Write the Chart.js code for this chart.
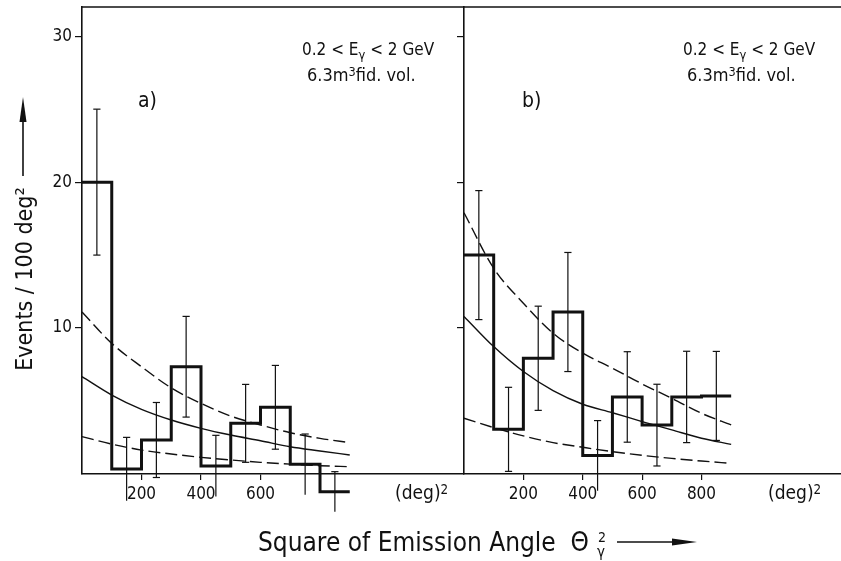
<!DOCTYPE html>
<html><head><meta charset="utf-8">
<title>Events per 100 deg² vs square of emission angle</title>
<script src="https://cdn.jsdelivr.net/npm/chart.js@4.4.1/dist/chart.umd.min.js"></script>
<style>
html,body{margin:0;padding:0;background:#fff;}
#wrap{position:relative;width:841px;height:561px;overflow:hidden;background:#fff;color:#111;font-family:"DejaVu Sans Condensed","DejaVu Sans",sans-serif;}
#wrap canvas{position:absolute;top:0;}
#wrap svg{position:absolute;left:0;top:0;}
.t{position:absolute;white-space:nowrap;line-height:1;}
.sub{font-size:0.75em;position:relative;top:0.3em;}
.sup{font-size:0.7em;position:relative;top:-0.4em;}
</style></head>
<body>
<div id="wrap">
  <canvas id="chartA" width="465" height="561" style="left:0;width:465px;height:561px"></canvas>
  <canvas id="chartB" width="401" height="561" style="left:440px;width:401px;height:561px"></canvas>
  <svg width="841" height="561">
    <line x1="23" y1="176" x2="23" y2="118" stroke="#111" stroke-width="1.6"/>
    <polygon points="23,97 19.5,122 26.5,122" fill="#111"/>
    <line x1="617" y1="542" x2="676" y2="542" stroke="#111" stroke-width="1.6"/>
    <polygon points="697,542 672,538.5 672,545.5" fill="#111"/>
  </svg>
  <div class="t" style="left:24px;top:279px;font-size:23px;transform:translate(-50%,-50%) rotate(-90deg);">Events / 100 deg²</div>
  <div class="t" style="left:258px;top:529px;font-size:26px;">Square of Emission Angle&nbsp;&nbsp;Θ</div>
  <div class="t" style="left:598px;top:530px;font-size:14px;">2</div>
  <div class="t" style="left:597px;top:545px;font-size:15px;">γ</div>

  <div class="t" style="left:302px;top:41px;font-size:17px;">0.2 &lt; E<span class="sub">γ</span> &lt; 2 GeV</div>
  <div class="t" style="left:307px;top:66px;font-size:18px;">6.3m<span class="sup">3</span>fid. vol.</div>
  <div class="t" style="left:138px;top:90px;font-size:21px;">a)</div>
  <div class="t" style="left:395px;top:483px;font-size:19px;">(deg)<span class="sup">2</span></div>

  <div class="t" style="left:683px;top:41px;font-size:17px;">0.2 &lt; E<span class="sub">γ</span> &lt; 2 GeV</div>
  <div class="t" style="left:687px;top:66px;font-size:18px;">6.3m<span class="sup">3</span>fid. vol.</div>
  <div class="t" style="left:522px;top:90px;font-size:21px;">b)</div>
  <div class="t" style="left:768px;top:483px;font-size:19px;">(deg)<span class="sup">2</span></div>
</div>
<script>
// ---- data ----
const binEdges   = [0, 100, 200, 300, 400, 500, 600, 700, 800, 900];   // deg^2
const binCenters = [50, 150, 250, 350, 450, 550, 650, 750, 850];
const curveX     = [0, 100, 200, 300, 400, 500, 600, 700, 800, 900];

// panel a)
const countsA = [20.0, 0.34, 2.33, 7.35, 0.55, 3.47, 4.57, 0.66, -1.21];
const errA    = [5.0, 2.17, 2.57, 3.45, 2.1, 2.67, 2.87, 2.08, 1.37];
const upperA  = [11.1, 8.95, 7.35, 5.9, 4.84, 3.97, 3.36, 2.83, 2.44, 2.15];
const fitA    = [6.67, 5.41, 4.43, 3.7, 3.13, 2.67, 2.28, 1.87, 1.58, 1.30];
const lowerA  = [2.56, 2.05, 1.64, 1.37, 1.14, 0.96, 0.8, 0.68, 0.57, 0.5];

// panel b)
const countsB = [15.0, 3.06, 7.93, 11.1, 1.26, 5.28, 3.35, 5.28, 5.35];
const errB    = [4.42, 2.88, 3.57, 4.08, 2.4, 3.1, 2.8, 3.13, 3.05];
const upperB  = [17.9, 14.1, 11.7, 9.65, 8.28, 7.25, 6.17, 5.19, 4.16, 3.36];
const fitB    = [10.8, 8.73, 7.02, 5.71, 4.78, 4.2, 3.59, 3.02, 2.45, 2.03];
const lowerB  = [3.82, 3.18, 2.61, 2.15, 1.83, 1.53, 1.28, 1.07, 0.89, 0.73];

// axis ticks
const yTicks  = [10, 20, 30];
const xTicksA = [200, 400, 600];
const xTicksB = [200, 400, 600, 800];

// ---- chart building ----
const INK = '#111';
const TICK_FONT = '"DejaVu Sans Condensed","DejaVu Sans",sans-serif';

function histPoints(counts) {
  return binEdges.map((e, i) => ({ x: e, y: counts[Math.min(i, counts.length - 1)] }));
}
function curvePoints(vals) {
  return curveX.map((x, i) => ({ x: x, y: vals[i] }));
}
function errPoints(counts, errs) {
  const p = [];
  binCenters.forEach((c, i) => {
    p.push({ x: c, y: counts[i] - errs[i] }, { x: c, y: counts[i] + errs[i] }, { x: c, y: null });
  });
  return p;
}

const frameTop = {
  id: 'frameTop',
  afterDraw(chart) {
    const { ctx, chartArea: a } = chart;
    ctx.save();
    ctx.strokeStyle = INK;
    ctx.lineWidth = 1.5;
    ctx.beginPath();
    ctx.moveTo(a.left, a.top);
    ctx.lineTo(a.right, a.top);
    ctx.stroke();
    ctx.restore();
  }
};

function curveDs(vals, dashed) {
  return {
    data: curvePoints(vals), borderColor: INK, borderWidth: 1.4,
    borderDash: dashed ? [12, 5] : [], pointRadius: 0,
    cubicInterpolationMode: 'monotone', fill: false, clip: false
  };
}

function buildChart(id, p) {
  return new Chart(document.getElementById(id), {
    type: 'line',
    data: {
      datasets: [
        curveDs(p.upper, true),
        curveDs(p.fit, false),
        curveDs(p.lower, true),
        {
          data: errPoints(p.counts, p.errs), borderColor: INK, borderWidth: 1.2,
          pointStyle: 'line', pointRadius: 3.6, pointBorderWidth: 1.2,
          pointBorderColor: INK, pointBackgroundColor: INK,
          spanGaps: false, fill: false, clip: false
        },
        {
          data: histPoints(p.counts), stepped: true, borderColor: INK,
          borderWidth: 3, pointRadius: 0, fill: false, clip: false
        }
      ]
    },
    options: {
      responsive: false, animation: false, events: [],
      layout: { autoPadding: false, padding: { top: 7, right: p.padRight, left: 0, bottom: 0 } },
      plugins: { legend: { display: false }, tooltip: { enabled: false } },
      scales: {
        x: {
          type: 'linear', min: 0, max: p.xMax,
          afterBuildTicks: s => { s.ticks = p.xTicks.map(v => ({ value: v })); },
          afterFit: s => { s.height = 87; s.paddingLeft = 0; s.paddingRight = 0; },
          grid: { display: true, drawOnChartArea: false, drawTicks: true, tickLength: 6, color: INK, lineWidth: 1.2 },
          border: { display: true, color: INK, width: 1.5 },
          ticks: { color: INK, font: { family: TICK_FONT, size: 17 }, padding: 4, maxRotation: 0, autoSkip: false }
        },
        y: {
          type: 'linear', min: 0, max: 32,
          afterBuildTicks: s => { s.ticks = yTicks.map(v => ({ value: v })); },
          afterFit: s => { s.width = p.yWidth; s.paddingTop = 0; s.paddingBottom = 0; },
          grid: { display: true, drawOnChartArea: false, drawTicks: true, tickLength: 7, color: INK, lineWidth: 1.2 },
          border: { display: true, color: INK, width: 1.6 },
          ticks: { display: p.yLabels, color: INK, font: { family: TICK_FONT, size: 17 }, padding: 3 }
        }
      }
    },
    plugins: [frameTop]
  });
}

buildChart('chartA', {
  counts: countsA, errs: errA, upper: upperA, fit: fitA, lower: lowerA,
  xTicks: xTicksA, xMax: 1284, yWidth: 82, yLabels: true, padRight: 1
});
buildChart('chartB', {
  counts: countsB, errs: errB, upper: upperB, fit: fitB, lower: lowerB,
  xTicks: xTicksB, xMax: 1270, yWidth: 24, yLabels: false, padRight: 0
});
</script>
</body></html>
